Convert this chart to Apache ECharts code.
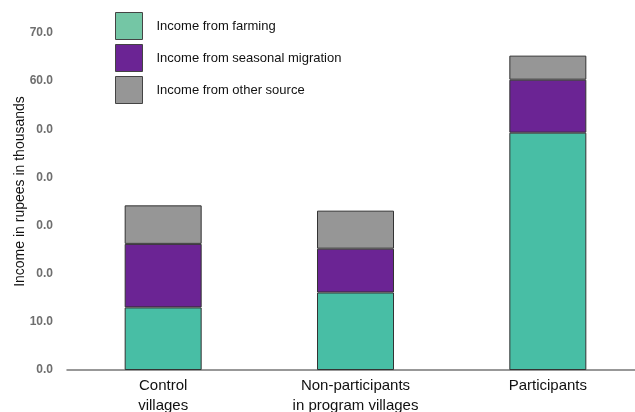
<!DOCTYPE html>
<html>
<head>
<meta charset="utf-8">
<script src="https://cdn.jsdelivr.net/npm/echarts@6/dist/echarts.min.js"></script>
<style>
  html, body { margin: 0; padding: 0; background: #fff; }
  #chart { width: 635px; height: 412px; }
</style>
</head>
<body>
<div id="chart"></div>
<script>
// Household income by group, rupees in thousands
const categories = ['Control\nvillages', 'Non-participants\nin program villages', 'Participants'];
const farming = [13.0, 16.1, 49.3];
const migration = [13.2, 9.1, 11.0];
const otherSource = [8.0, 7.9, 5.0];
const seriesNames = ['Income from farming', 'Income from seasonal migration', 'Income from other source'];
// Tick labels printed along the value axis, bottom to top
const tickLabels = ['0.0', '10.0', '0.0', '0.0', '0.0', '0.0', '60.0', '70.0'];

const colors = ['#48bea5', '#6b2494', '#969696'];
const legendColors = ['#74c6a5', '#6b2494', '#969696'];

function barSeries(name, data, i) {
  return {
    name: name,
    type: 'bar',
    stack: 'income',
    data: data,
    barWidth: 77,
    itemStyle: { color: colors[i], borderColor: '#333', borderWidth: 1 },
    emphasis: { disabled: true }
  };
}

const chart = echarts.init(document.getElementById('chart'), null, { renderer: 'canvas' });
chart.setOption({
  animation: false,
  grid: { left: 67, top: 33, width: 577, height: 337, containLabel: false, outerBoundsMode: 'none' },
  legend: {
    orient: 'vertical',
    left: 110,
    top: 7,
    itemWidth: 27,
    itemHeight: 27,
    itemGap: 4,
    icon: 'rect',
    textStyle: { fontSize: 13, color: '#111', fontFamily: 'Liberation Sans, Arial', padding: [0, 0, 0, 9] },
    data: seriesNames.map((n, i) => ({
      name: n,
      itemStyle: { color: legendColors[i], borderColor: '#444', borderWidth: 1 }
    }))
  },
  xAxis: {
    type: 'category',
    data: categories,
    axisLine: { lineStyle: { color: '#777', width: 1.5 } },
    axisTick: { show: false },
    axisLabel: {
      color: '#111',
      fontSize: 15,
      lineHeight: 20,
      margin: 6,
      fontFamily: 'Liberation Sans, Arial'
    }
  },
  yAxis: {
    type: 'value',
    min: 0,
    max: 70,
    interval: 10,
    name: 'Income in rupees in thousands',
    nameLocation: 'middle',
    nameGap: 40,
    nameRotate: 90,
    nameMoveOverlap: false,
    nameTextStyle: { color: '#111', fontSize: 14, fontFamily: 'Liberation Sans, Arial', padding: [0, 0, 0, 20] },
    axisLine: { show: false },
    axisTick: { show: false },
    splitLine: { show: false },
    axisLabel: {
      color: '#6e6e6e',
      fontSize: 12,
      fontWeight: 'bold',
      margin: 14,
      fontFamily: 'Liberation Sans, Arial',
      formatter: function (v) { return tickLabels[Math.round(v / 10)]; }
    }
  },
  series: [
    barSeries(seriesNames[0], farming, 0),
    barSeries(seriesNames[1], migration, 1),
    barSeries(seriesNames[2], otherSource, 2)
  ]
});
</script>
</body>
</html>
